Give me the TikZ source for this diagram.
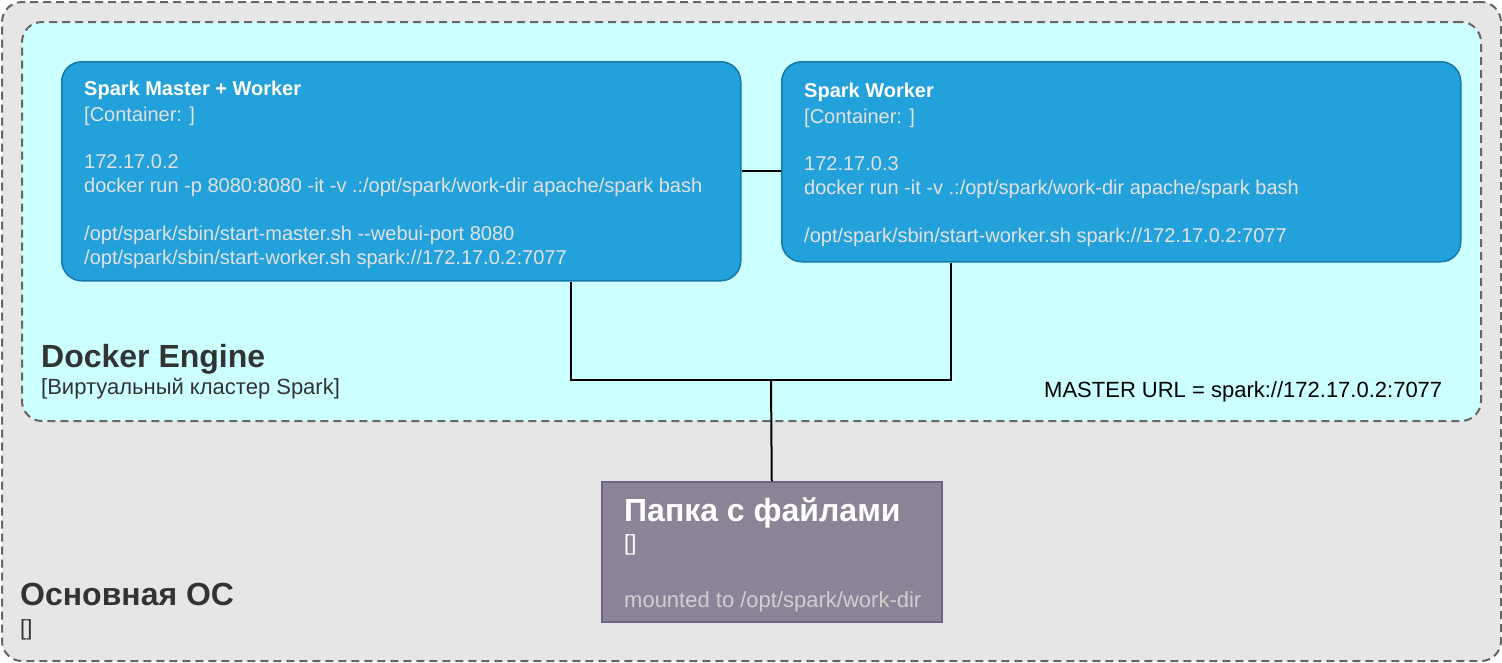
\documentclass[tikz,border=0pt]{standalone}
\usepackage{fontspec}
\setmainfont{Liberation Sans}
\usetikzlibrary{calc}
\definecolor{osfill}{HTML}{E6E6E6}
\definecolor{dashgray}{HTML}{666666}
\definecolor{engfill}{HTML}{CCFFFF}
\definecolor{contfill}{HTML}{23A1DA}
\definecolor{contdraw}{HTML}{1478A8}
\definecolor{conttext}{HTML}{E2E2E2}
\definecolor{foldfill}{HTML}{8C8496}
\definecolor{folddraw}{HTML}{6C6480}
\definecolor{foldtext}{HTML}{CFCFCF}
\definecolor{labtext}{HTML}{333333}
\tikzset{
  boundary/.style={draw=dashgray, line width=2pt, dash pattern=on 8pt off 5pt, rounded corners=20pt, inner sep=0pt, anchor=north west},
  cbox/.style={draw=contdraw, line width=1.5pt, fill=contfill, rounded corners=20pt, inner sep=0pt, anchor=north west},
  fbox/.style={draw=folddraw, line width=1.5pt, fill=foldfill, inner sep=0pt, anchor=north west},
  ln/.style={inner sep=0pt, anchor=base west},
  ttl/.style={ln, text=white, font=\fontsize{20}{24}\selectfont\bfseries},
  body/.style={ln, text=conttext, font=\fontsize{20}{24}\selectfont},
  bigttl/.style={ln, font=\fontsize{32}{38}\selectfont\bfseries},
  sub/.style={ln, font=\fontsize{22}{26}\selectfont},
  conn/.style={line width=2pt, black}
}
\begin{document}
\begin{tikzpicture}[x=1pt,y=-1pt]
\useasboundingbox (0,0) rectangle (1502,662);
% outer OS boundary
\node[boundary, fill=osfill, minimum width=1499pt, minimum height=659pt] (os) at (1,1) {};
% Docker engine boundary
\node[boundary, fill=engfill, minimum width=1459pt, minimum height=399pt] (eng) at (21,21) {};
% containers
\node[cbox, minimum width=679pt, minimum height=219pt] (master) at (61,61) {};
\node[cbox, minimum width=679pt, minimum height=200pt] (worker) at (781,61) {};
% folder
\node[fbox, minimum width=340pt, minimum height=140pt] (folder) at (601,481) {};

% connectors
\coordinate (mj) at (571,380);
\coordinate (wj) at (951,380);
\coordinate (jn) at (771,380);
\draw[conn] (master.east) -- (master.east -| worker.west);
\draw[conn] (master.south -| mj) -- (mj) -- (wj) -- (worker.south -| wj);
\draw[conn] (jn) -- (folder.north);

% master text
\node[ttl] (m1) at (84,95) {Spark Master + Worker};
\node[body] (m2) at (84,121.5) {[Container: ]};
\node[body] (m4) at (84,168.3) {172.17.0.2};
\node[body] (m5) at (84,192.3) {docker run -p 8080:8080 -it -v .:/opt/spark/work-dir apache/spark bash};
\node[body] (m7) at (84,240.3) {/opt/spark/sbin/start-master.sh -{}-webui-port 8080};
\node[body] (m8) at (84,264.3) {/opt/spark/sbin/start-worker.sh spark://172.17.0.2:7077};

% worker text
\node[ttl] (w1) at (804,97) {Spark Worker};
\node[body] (w2) at (804,123.5) {[Container: ]};
\node[body] (w4) at (804,170.3) {172.17.0.3};
\node[body] (w5) at (804,194.3) {docker run -it -v .:/opt/spark/work-dir apache/spark bash};
\node[body] (w7) at (804,242.3) {/opt/spark/sbin/start-worker.sh spark://172.17.0.2:7077};

% engine labels
\node[bigttl, text=labtext] (e1) at (41,367) {Docker Engine};
\node[sub, text=labtext] (e2) at (41,394.5) {[Виртуальный кластер Spark]};
\node[sub, text=black] (url) at (1044,397.7) {MASTER URL = spark://172.17.0.2:7077};

% OS labels
\node[bigttl, text=labtext] (o1) at (20,605) {Основная ОС};
\node[sub, text=labtext] (o2) at (20,635) {[]};

% folder text
\node[bigttl, text=white] (f1) at (624,521) {Папка с файлами};
\node[sub, text=white] (f2) at (624,550) {[]};
\node[sub, text=foldtext] (f3) at (624,607.7) {mounted to /opt/spark/work-dir};
\end{tikzpicture}
\end{document}
